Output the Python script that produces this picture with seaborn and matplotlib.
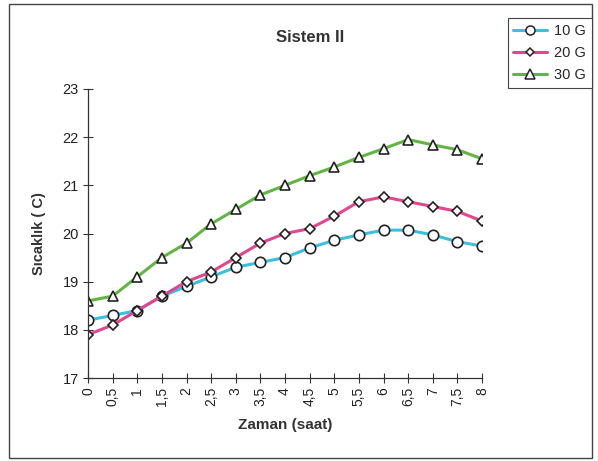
import matplotlib
matplotlib.use("Agg")
import matplotlib.pyplot as plt
import seaborn as sns
import pandas as pd
from matplotlib.lines import Line2D
from matplotlib.patches import Rectangle

hours = [0, 0.5, 1, 1.5, 2, 2.5, 3, 3.5, 4, 4.5, 5, 5.5, 6, 6.5, 7, 7.5, 8]
tick_labels = ["0", "0,5", "1", "1,5", "2", "2,5", "3", "3,5", "4", "4,5",
               "5", "5,5", "6", "6,5", "7", "7,5", "8"]
g10 = [18.2, 18.3, 18.4, 18.7, 18.9, 19.1, 19.3, 19.4, 19.5, 19.7, 19.86,
       19.97, 20.07, 20.07, 19.97, 19.83, 19.74]
g20 = [17.9, 18.1, 18.4, 18.7, 19.0, 19.2, 19.5, 19.8, 20.0, 20.1, 20.36,
       20.66, 20.76, 20.66, 20.56, 20.46, 20.26]
g30 = [18.6, 18.7, 19.1, 19.5, 19.8, 20.2, 20.5, 20.8, 21.0, 21.2, 21.38,
       21.58, 21.76, 21.95, 21.84, 21.74, 21.55]
series_names = ["10 G", "20 G", "30 G"]

colors = {"10 G": "#3cbfe0", "20 G": "#e2468e", "30 G": "#62b545"}
markers = {"10 G": "o", "20 G": "D", "30 G": "^"}
msizes = {"10 G": 7.5, "20 G": 5.5, "30 G": 7.5}

df = pd.DataFrame({
    "hour": hours * 3,
    "temp": g10 + g20 + g30,
    "series": [series_names[0]] * len(hours) + [series_names[1]] * len(hours)
              + [series_names[2]] * len(hours),
})

sns.set_theme(style="white")
plt.rcParams["font.family"] = ["Liberation Sans", "DejaVu Sans"]

fig = plt.figure(figsize=(5.98, 4.61), dpi=100)
ax = fig.add_axes([88 / 598, 1 - 378 / 461, (482 - 88) / 598, (378 - 89) / 461])

for name in series_names:
    sub = df[df["series"] == name]
    sns.lineplot(data=sub, x="hour", y="temp", ax=ax, color=colors[name],
                 lw=2.2, marker=markers[name], ms=msizes[name], mfc="white",
                 mec="#222222", mew=1.2, legend=False)

ax.set_xlim(0, 8)
ax.set_ylim(17, 23)
ax.set_xticks(hours)
ax.set_xticklabels(tick_labels, rotation=90, fontsize=10, color="#222222")
ax.set_yticks([17, 18, 19, 20, 21, 22, 23])
ax.set_yticklabels(["17", "18", "19", "20", "21", "22", "23"], fontsize=10.5,
                   color="#222222")
ax.tick_params(axis="both", direction="inout", length=7, width=0.8,
               color="#333333", left=True, bottom=True, pad=3)
for s in ["top", "right"]:
    ax.spines[s].set_visible(False)
for s in ["left", "bottom"]:
    ax.spines[s].set_color("#333333")
    ax.spines[s].set_linewidth(0.9)
ax.set_xlabel("Zaman (saat)", fontsize=11, fontweight="bold", color="#333333",
              labelpad=8)
ax.set_ylabel("Sıcaklık ( C)", fontsize=10.5, fontweight="bold", color="#333333",
              labelpad=12)

fig.text(310 / 598, 1 - 38 / 461, "Sistem II", ha="center", va="center",
         fontsize=12, fontweight="bold", color="#333333")

handles = [Line2D([0], [0], color=colors[n], lw=2.2, marker=markers[n],
                  ms=msizes[n] - 1, mfc="white", mec="#222222", mew=1.1)
           for n in series_names]
leg = fig.legend(handles, series_names, loc="upper right",
                 bbox_to_anchor=(592 / 598, 1 - 18 / 461), fontsize=10.5,
                 frameon=True, fancybox=False, edgecolor="#444444",
                 framealpha=1, handlelength=2.3, borderpad=0.4,
                 labelspacing=0.55, handletextpad=0.5, borderaxespad=0)
leg.get_frame().set_linewidth(0.8)

fig.patches.append(Rectangle((9 / 598, 3 / 461), (592 - 9) / 598, (457 - 3) / 461,
                             transform=fig.transFigure, fill=False,
                             edgecolor="#444444", lw=1.0))

fig.savefig("out.png", dpi=100)
